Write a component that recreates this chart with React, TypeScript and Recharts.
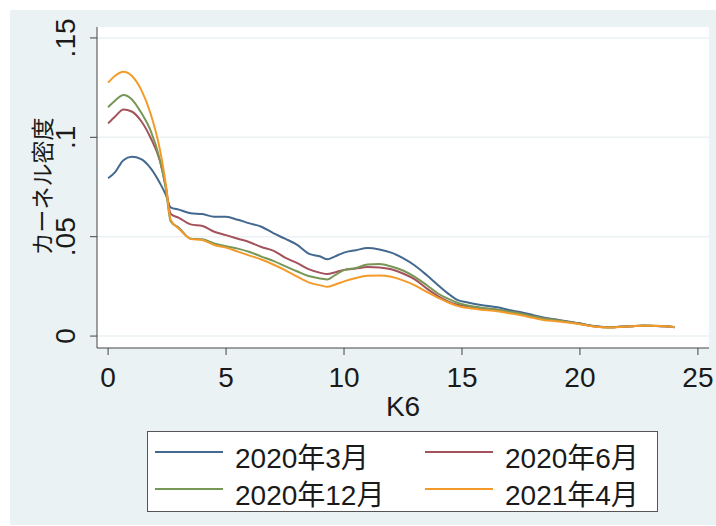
import React from 'react';
import { LineChart, Line, XAxis, YAxis, CartesianGrid } from 'recharts';

// K6 score grid (x values)
const k6 = [0, 0.3, 0.65, 1.0, 1.4, 1.8, 2.2, 2.45, 2.65, 3.0, 3.5, 4.0, 4.5, 5.0, 5.5, 6.0, 6.5, 7.0, 7.5, 8.0, 8.5, 9.0, 9.3, 9.6, 10.0, 10.5, 11.0, 11.5, 12.0, 12.5, 13.0, 13.5, 14.0, 14.4, 14.8, 15.2, 15.8, 16.5, 17.0, 17.5, 18.0, 18.5, 19.0, 19.5, 20.0, 20.5, 21.0, 21.3, 21.7, 22.2, 22.7, 23.2, 23.6, 24.0];

const mar2020 = [0.0794, 0.0825, 0.0885, 0.0902, 0.0890, 0.0845, 0.0769, 0.0710, 0.0648, 0.0636, 0.0618, 0.0614, 0.0600, 0.0600, 0.0585, 0.0567, 0.0550, 0.0518, 0.0490, 0.0460, 0.0415, 0.0400, 0.0386, 0.0400, 0.0420, 0.0432, 0.0443, 0.0436, 0.0420, 0.0392, 0.0355, 0.0307, 0.0255, 0.0215, 0.0182, 0.0170, 0.0156, 0.0145, 0.0131, 0.0120, 0.0106, 0.0092, 0.0083, 0.0074, 0.0064, 0.0052, 0.0046, 0.0044, 0.0047, 0.0050, 0.0052, 0.0051, 0.0049, 0.0044];

const jun2020 = [0.1070, 0.1105, 0.1140, 0.1130, 0.1082, 0.0998, 0.0880, 0.0750, 0.0615, 0.0595, 0.0562, 0.0554, 0.0525, 0.0508, 0.0490, 0.0472, 0.0448, 0.0430, 0.0395, 0.0368, 0.0337, 0.0318, 0.0312, 0.0320, 0.0333, 0.0340, 0.0347, 0.0345, 0.0336, 0.0315, 0.0285, 0.0240, 0.0200, 0.0175, 0.0158, 0.0150, 0.0140, 0.0132, 0.0122, 0.0113, 0.0100, 0.0088, 0.0080, 0.0071, 0.0062, 0.0051, 0.0045, 0.0044, 0.0047, 0.0050, 0.0052, 0.0051, 0.0049, 0.0045];

const dec2020 = [0.1151, 0.1185, 0.1213, 0.1192, 0.1125, 0.1035, 0.0885, 0.0740, 0.0578, 0.0545, 0.0490, 0.0487, 0.0466, 0.0452, 0.0440, 0.0423, 0.0400, 0.0378, 0.0352, 0.0326, 0.0302, 0.0290, 0.0285, 0.0305, 0.0332, 0.0342, 0.0360, 0.0362, 0.0350, 0.0330, 0.0298, 0.0257, 0.0213, 0.0188, 0.0168, 0.0155, 0.0143, 0.0133, 0.0122, 0.0113, 0.0100, 0.0088, 0.0080, 0.0071, 0.0062, 0.0051, 0.0045, 0.0044, 0.0047, 0.0050, 0.0053, 0.0052, 0.0050, 0.0046];

const apr2021 = [0.1275, 0.1310, 0.1330, 0.1310, 0.1240, 0.1120, 0.0936, 0.0760, 0.0586, 0.0540, 0.0490, 0.0483, 0.0458, 0.0445, 0.0425, 0.0405, 0.0385, 0.0360, 0.0332, 0.0300, 0.0270, 0.0255, 0.0248, 0.0258, 0.0275, 0.0292, 0.0303, 0.0305, 0.0298, 0.0280, 0.0255, 0.0223, 0.0192, 0.0170, 0.0152, 0.0142, 0.0133, 0.0125, 0.0115, 0.0105, 0.0092, 0.0080, 0.0075, 0.0068, 0.0060, 0.0050, 0.0044, 0.0043, 0.0046, 0.0049, 0.0052, 0.0051, 0.0050, 0.0046];

const seriesNames = ['2020年3月', '2020年6月', '2020年12月', '2021年4月'];
const seriesKeys = ['mar2020', 'jun2020', 'dec2020', 'apr2021'];
const seriesColors = ['#44698F', '#A4525B', '#779756', '#F39A2A'];

const xTicks = [0, 5, 10, 15, 20, 25];
const yTicks = [0, 0.05, 0.1, 0.15];

const xTitle = 'K6';
const yTitle = 'カーネル密度';

const data = k6.map((x, i) => ({
  k6: x,
  mar2020: mar2020[i],
  jun2020: jun2020[i],
  dec2020: dec2020[i],
  apr2021: apr2021[i],
}));

const FONT = '"Liberation Sans", Arial, "Noto Sans CJK JP", sans-serif';
const CJK = '"Noto Sans CJK JP", "Liberation Sans", sans-serif';

const fmtY = (v: number) => (v === 0 ? '0' : String(v).replace(/^0/, ''));

const YTick = (props: any) => {
  const { x, y, payload } = props;
  const bx = x - 13;
  return (
    <text x={bx} y={y} transform={`rotate(-90 ${bx} ${y})`} textAnchor="middle" fontSize={28} fill="#1a1a1a" fontFamily={FONT}>
      {fmtY(payload.value)}
    </text>
  );
};

const XTick = (props: any) => {
  const { x, y, payload } = props;
  return (
    <text x={x} y={y + 30} textAnchor="middle" fontSize={28} fill="#1a1a1a" fontFamily={FONT}>
      {payload.value}
    </text>
  );
};

export default function App() {
  return (
    <div style={{ position: 'absolute', left: 0, top: 0, width: 716, height: 526, background: '#fff' }}>
      <div style={{ position: 'absolute', left: 10, top: 10, width: 706, height: 515, background: '#EAF2F3' }} />
      <div style={{ position: 'absolute', left: 0, top: 0 }}>
        <LineChart width={716} height={526} data={data} margin={{ top: 27, right: 7, left: 0, bottom: 0 }}>
          <CartesianGrid fill="#ffffff" stroke="#EAF2F3" strokeWidth={1.5} vertical={false} horizontalValues={yTicks} />
          <XAxis
            dataKey="k6"
            type="number"
            domain={[-0.47, 25.47]}
            ticks={xTicks}
            allowDataOverflow
            height={178}
            tickSize={7}
            tickMargin={2}
            stroke="#444"
            tick={<XTick />}
            label={{
              content: (p: any) => {
                const vb = p.viewBox || { x: 97, y: 348, width: 612 };
                return (
                  <text x={vb.x + vb.width / 2} y={vb.y + 68} textAnchor="middle" fontSize={28} fill="#1a1a1a" fontFamily={FONT}>
                    {xTitle}
                  </text>
                );
              },
            }}
          />
          <YAxis
            type="number"
            domain={[-0.006, 0.1555]}
            ticks={yTicks}
            allowDataOverflow
            width={97}
            tickSize={7}
            tickMargin={2}
            stroke="#444"
            tick={<YTick />}
            label={{
              content: (p: any) => {
                const vb = p.viewBox || { x: 0, y: 27, height: 321 };
                const cx = 51;
                const cy = vb.y + vb.height / 2 - 1;
                return (
                  <text x={cx} y={cy} transform={`rotate(-90 ${cx} ${cy})`} textAnchor="middle" fontSize={23} fill="#1a1a1a" fontFamily={CJK}>
                    {yTitle}
                  </text>
                );
              },
            }}
          />
          {seriesKeys.map((k, i) => (
            <Line
              key={k}
              dataKey={k}
              name={seriesNames[i]}
              type="monotone"
              stroke={seriesColors[i]}
              strokeWidth={2}
              dot={false}
              isAnimationActive={false}
            />
          ))}
        </LineChart>
      </div>
      <svg style={{ position: 'absolute', left: 0, top: 0, pointerEvents: 'none' }} width={716} height={526}>
        <rect x={147.5} y={431.5} width={510} height={80} fill="#ffffff" stroke="#555" strokeWidth={1} />
        {seriesNames.map((n, i) => {
          const col = i % 2;
          const row = Math.floor(i / 2);
          const lx = col === 0 ? 155 : 425;
          const ly = row === 0 ? 452 : 489;
          return (
            <g key={n}>
              <line x1={lx} x2={lx + 68} y1={ly} y2={ly} stroke={seriesColors[i]} strokeWidth={2} />
              <text x={lx + 80} y={ly + 16} fontSize={28} fill="#1a1a1a" fontFamily={FONT}>
                {n}
              </text>
            </g>
          );
        })}
      </svg>
    </div>
  );
}
